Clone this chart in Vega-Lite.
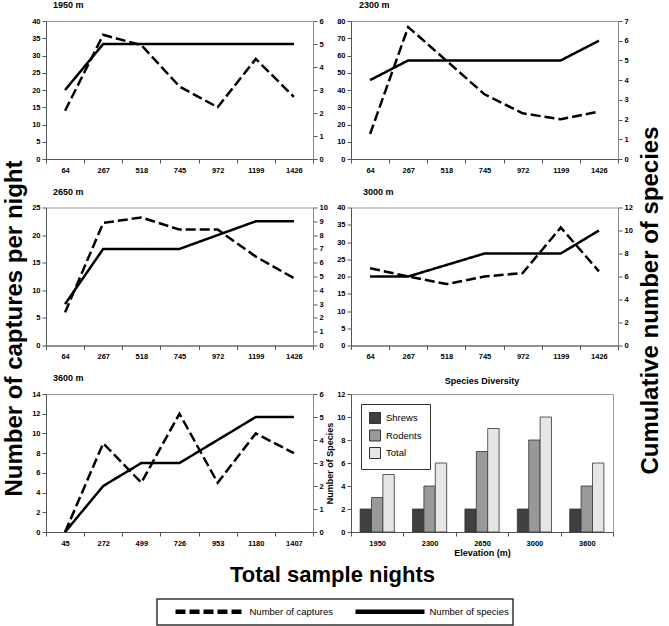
{
  "$schema": "https://vega.github.io/schema/vega-lite/v6.json",
  "description": "Captures per night and cumulative species by elevation, with species diversity bars.",
  "padding": {"left": 2, "top": 0, "right": 2, "bottom": 2},
  "datasets": {
    "e1950": [
      {"nights": 64, "captures": 14, "species": 3},
      {"nights": 267, "captures": 36, "species": 5},
      {"nights": 518, "captures": 33, "species": 5},
      {"nights": 745, "captures": 21, "species": 5},
      {"nights": 972, "captures": 15, "species": 5},
      {"nights": 1199, "captures": 29, "species": 5},
      {"nights": 1426, "captures": 18, "species": 5}
    ],
    "e2300": [
      {"nights": 64, "captures": 14.5, "species": 4},
      {"nights": 267, "captures": 76.5, "species": 5},
      {"nights": 518, "captures": 57, "species": 5},
      {"nights": 745, "captures": 37.5, "species": 5},
      {"nights": 972, "captures": 26.5, "species": 5},
      {"nights": 1199, "captures": 23, "species": 5},
      {"nights": 1426, "captures": 27.5, "species": 6}
    ],
    "e2650": [
      {"nights": 64, "captures": 6, "species": 3},
      {"nights": 267, "captures": 22.2, "species": 7},
      {"nights": 518, "captures": 23.2, "species": 7},
      {"nights": 745, "captures": 21, "species": 7},
      {"nights": 972, "captures": 21, "species": 8},
      {"nights": 1199, "captures": 16.1, "species": 9},
      {"nights": 1426, "captures": 12.2, "species": 9}
    ],
    "e3000": [
      {"nights": 64, "captures": 22.4, "species": 6},
      {"nights": 267, "captures": 20, "species": 6},
      {"nights": 518, "captures": 17.8, "species": 7},
      {"nights": 745, "captures": 20, "species": 8},
      {"nights": 972, "captures": 21, "species": 8},
      {"nights": 1199, "captures": 34.2, "species": 8},
      {"nights": 1426, "captures": 21.5, "species": 10}
    ],
    "e3600": [
      {"nights": 45, "captures": 0, "species": 0},
      {"nights": 272, "captures": 9, "species": 2},
      {"nights": 499, "captures": 5, "species": 3},
      {"nights": 726, "captures": 12, "species": 3},
      {"nights": 953, "captures": 5, "species": 4},
      {"nights": 1180, "captures": 10, "species": 5},
      {"nights": 1407, "captures": 8, "species": 5}
    ],
    "bars": [
      {"elevation": "1950", "group": "Shrews", "count": 2},
      {"elevation": "1950", "group": "Rodents", "count": 3},
      {"elevation": "1950", "group": "Total", "count": 5},
      {"elevation": "2300", "group": "Shrews", "count": 2},
      {"elevation": "2300", "group": "Rodents", "count": 4},
      {"elevation": "2300", "group": "Total", "count": 6},
      {"elevation": "2650", "group": "Shrews", "count": 2},
      {"elevation": "2650", "group": "Rodents", "count": 7},
      {"elevation": "2650", "group": "Total", "count": 9},
      {"elevation": "3000", "group": "Shrews", "count": 2},
      {"elevation": "3000", "group": "Rodents", "count": 8},
      {"elevation": "3000", "group": "Total", "count": 10},
      {"elevation": "3600", "group": "Shrews", "count": 2},
      {"elevation": "3600", "group": "Rodents", "count": 4},
      {"elevation": "3600", "group": "Total", "count": 6}
    ]
  },
  "columns": 2,
  "bounds": "flush",
  "center": {"column": true},
  "spacing": {"row": 48.5, "column": 38},
  "resolve": {"scale": {"fill": "independent"}, "legend": {"fill": "independent"}},
  "concat": [
    {
      "width": 267, "height": 138,
      "title": {"text": "1950 m"},
      "data": {"name": "e1950"},
      "layer": [
        {
          "mark": {"type": "line", "color": "#000", "strokeWidth": 2.5},
          "encoding": {
            "x": {"field": "nights", "type": "ordinal", "scale": {"type": "band", "paddingInner": 0, "paddingOuter": 0}, "axis": {"title": null, "labelAngle": 0, "tickBand": "extent"}},
            "y": {"field": "captures", "type": "quantitative", "scale": {"domain": [0, 40], "nice": false}, "axis": {"title": "Number of captures per night", "titleFontSize": 24, "titleY": 307, "titlePadding": 5, "values": [0, 5, 10, 15, 20, 25, 30, 35, 40]}},
            "strokeDash": {"datum": "Number of captures", "type": "nominal", "scale": {"domain": ["Number of captures", "Number of species"], "range": [[10, 4], [1, 0]]},
              "legend": {"orient": "none", "legendX": 111, "legendY": 578, "direction": "horizontal", "encode": {"legend": {"update": {"strokeWidth": {"value": 1.5}}}}}}
          }
        },
        {
          "mark": {"type": "line", "color": "#000", "strokeWidth": 2.5},
          "encoding": {
            "x": {"field": "nights", "type": "ordinal"},
            "y": {"field": "species", "type": "quantitative", "scale": {"domain": [0, 6], "nice": false}, "axis": {"title": null, "orient": "right", "domainColor": "#888", "values": [0, 1, 2, 3, 4, 5, 6]}},
            "strokeDash": {"datum": "Number of species", "type": "nominal"}
          }
        }
      ],
      "resolve": {"scale": {"y": "independent"}}
    },
    {
      "width": 267, "height": 138,
      "title": {"text": "2300 m", "dx": 8},
      "data": {"name": "e2300"},
      "layer": [
        {
          "mark": {"type": "line", "color": "#000", "strokeWidth": 2.5},
          "encoding": {
            "x": {"field": "nights", "type": "ordinal", "scale": {"type": "band", "paddingInner": 0, "paddingOuter": 0}, "axis": {"title": null, "labelAngle": 0, "tickBand": "extent"}},
            "y": {"field": "captures", "type": "quantitative", "scale": {"domain": [0, 80], "nice": false}, "axis": {"title": null, "values": [0, 10, 20, 30, 40, 50, 60, 70, 80]}},
            "strokeDash": {"datum": "Number of captures", "type": "nominal"}
          }
        },
        {
          "mark": {"type": "line", "color": "#000", "strokeWidth": 2.5},
          "encoding": {
            "x": {"field": "nights", "type": "ordinal"},
            "y": {"field": "species", "type": "quantitative", "scale": {"domain": [0, 7], "nice": false}, "axis": {"title": "Cumulative number of species", "titleFontSize": 24, "titleAngle": 270, "titleBaseline": "top", "titleY": 279, "titlePadding": 10, "orient": "right", "domainColor": "#888", "values": [0, 1, 2, 3, 4, 5, 6, 7]}},
            "strokeDash": {"datum": "Number of species", "type": "nominal"}
          }
        }
      ],
      "resolve": {"scale": {"y": "independent"}}
    },
    {
      "width": 267, "height": 138,
      "title": {"text": "2650 m"},
      "data": {"name": "e2650"},
      "layer": [
        {
          "mark": {"type": "line", "color": "#000", "strokeWidth": 2.5},
          "encoding": {
            "x": {"field": "nights", "type": "ordinal", "scale": {"type": "band", "paddingInner": 0, "paddingOuter": 0}, "axis": {"title": null, "labelAngle": 0, "tickBand": "extent"}},
            "y": {"field": "captures", "type": "quantitative", "scale": {"domain": [0, 25], "nice": false}, "axis": {"title": null, "values": [0, 5, 10, 15, 20, 25]}},
            "strokeDash": {"datum": "Number of captures", "type": "nominal"}
          }
        },
        {
          "mark": {"type": "line", "color": "#000", "strokeWidth": 2.5},
          "encoding": {
            "x": {"field": "nights", "type": "ordinal"},
            "y": {"field": "species", "type": "quantitative", "scale": {"domain": [0, 10], "nice": false}, "axis": {"title": null, "orient": "right", "domainColor": "#888", "values": [0, 1, 2, 3, 4, 5, 6, 7, 8, 9, 10]}},
            "strokeDash": {"datum": "Number of species", "type": "nominal"}
          }
        }
      ],
      "resolve": {"scale": {"y": "independent"}}
    },
    {
      "width": 267, "height": 138,
      "title": {"text": "3000 m", "dx": 12},
      "data": {"name": "e3000"},
      "layer": [
        {
          "mark": {"type": "line", "color": "#000", "strokeWidth": 2.5},
          "encoding": {
            "x": {"field": "nights", "type": "ordinal", "scale": {"type": "band", "paddingInner": 0, "paddingOuter": 0}, "axis": {"title": null, "labelAngle": 0, "tickBand": "extent"}},
            "y": {"field": "captures", "type": "quantitative", "scale": {"domain": [0, 40], "nice": false}, "axis": {"title": null, "values": [0, 5, 10, 15, 20, 25, 30, 35, 40]}},
            "strokeDash": {"datum": "Number of captures", "type": "nominal"}
          }
        },
        {
          "mark": {"type": "line", "color": "#000", "strokeWidth": 2.5},
          "encoding": {
            "x": {"field": "nights", "type": "ordinal"},
            "y": {"field": "species", "type": "quantitative", "scale": {"domain": [0, 12], "nice": false}, "axis": {"title": null, "orient": "right", "domainColor": "#888", "values": [0, 2, 4, 6, 8, 10, 12]}},
            "strokeDash": {"datum": "Number of species", "type": "nominal"}
          }
        }
      ],
      "resolve": {"scale": {"y": "independent"}}
    },
    {
      "width": 267, "height": 138,
      "title": {"text": "3600 m"},
      "data": {"name": "e3600"},
      "layer": [
        {
          "mark": {"type": "line", "color": "#000", "strokeWidth": 2.5},
          "encoding": {
            "x": {"field": "nights", "type": "ordinal", "scale": {"type": "band", "paddingInner": 0, "paddingOuter": 0}, "axis": {"title": "Total sample nights", "titleFontSize": 22, "titleX": 286, "titlePadding": 18, "labelAngle": 0, "tickBand": "extent"}},
            "y": {"field": "captures", "type": "quantitative", "scale": {"domain": [0, 14], "nice": false}, "axis": {"title": null, "values": [0, 2, 4, 6, 8, 10, 12, 14]}},
            "strokeDash": {"datum": "Number of captures", "type": "nominal"}
          }
        },
        {
          "mark": {"type": "line", "color": "#000", "strokeWidth": 2.5},
          "encoding": {
            "x": {"field": "nights", "type": "ordinal"},
            "y": {"field": "species", "type": "quantitative", "scale": {"domain": [0, 6], "nice": false}, "axis": {"title": null, "orient": "right", "domainColor": "#888", "values": [0, 1, 2, 3, 4, 5, 6]}},
            "strokeDash": {"datum": "Number of species", "type": "nominal"}
          }
        }
      ],
      "resolve": {"scale": {"y": "independent"}}
    },
    {
      "width": 262, "height": 138,
      "title": {"text": "Species Diversity", "anchor": "middle", "dx": 0, "offset": 4},
      "data": {"name": "bars"},
      "mark": {"type": "bar", "stroke": "#333", "strokeWidth": 0.8},
      "encoding": {
        "x": {"field": "elevation", "type": "ordinal", "scale": {"type": "band", "paddingInner": 0, "paddingOuter": 0}, "axis": {"title": "Elevation (m)", "titlePadding": 2, "labelAngle": 0, "tickBand": "extent"}},
        "xOffset": {"field": "group", "type": "nominal", "scale": {"domain": ["Shrews", "Rodents", "Total"], "paddingInner": 0, "paddingOuter": 0.8}},
        "y": {"field": "count", "type": "quantitative", "scale": {"domain": [0, 12], "nice": false}, "axis": {"title": "Number of Species", "titlePadding": 2, "values": [0, 2, 4, 6, 8, 10, 12]}},
        "fill": {"field": "group", "type": "nominal", "scale": {"domain": ["Shrews", "Rodents", "Total"], "range": ["#404040", "#999999", "#e6e6e6"]},
          "legend": {"orient": "top-left", "offset": 10, "direction": "vertical", "title": null, "symbolType": "square", "symbolSize": 121, "symbolStrokeColor": "#333", "symbolStrokeWidth": 1, "symbolOffset": 0, "labelFontSize": 9.5, "labelOffset": 5, "rowPadding": 1.5, "padding": 8, "strokeColor": "#333", "fillColor": "#fff"}}
      }
    }
  ],
  "config": {
    "font": "Liberation Sans",
    "view": {"stroke": "#999", "strokeWidth": 1},
    "axis": {"grid": false, "domainColor": "#555", "tickColor": "#555", "tickSize": 4, "labelFontSize": 7.5, "labelFontWeight": "bold", "labelColor": "#000", "labelPadding": 2, "titleFontWeight": "bold", "titleFontSize": 9, "titleColor": "#000"},
    "axisX": {"labelPadding": 3},
    "title": {"anchor": "start", "frame": "group", "dx": 7, "offset": 7, "fontSize": 9, "fontWeight": "bold", "color": "#000"},
    "legend": {"title": null, "symbolType": "M-5.75,0H5.75", "symbolSize": 144, "symbolStrokeWidth": 4.5, "symbolStrokeColor": "#000", "symbolOffset": 40.5, "columnPadding": 8, "labelFontSize": 9.5, "labelFontWeight": "normal", "labelColor": "#000", "labelOffset": 31, "labelLimit": 300, "padding": 4, "strokeColor": "#333", "fillColor": "#fff"}
  }
}
